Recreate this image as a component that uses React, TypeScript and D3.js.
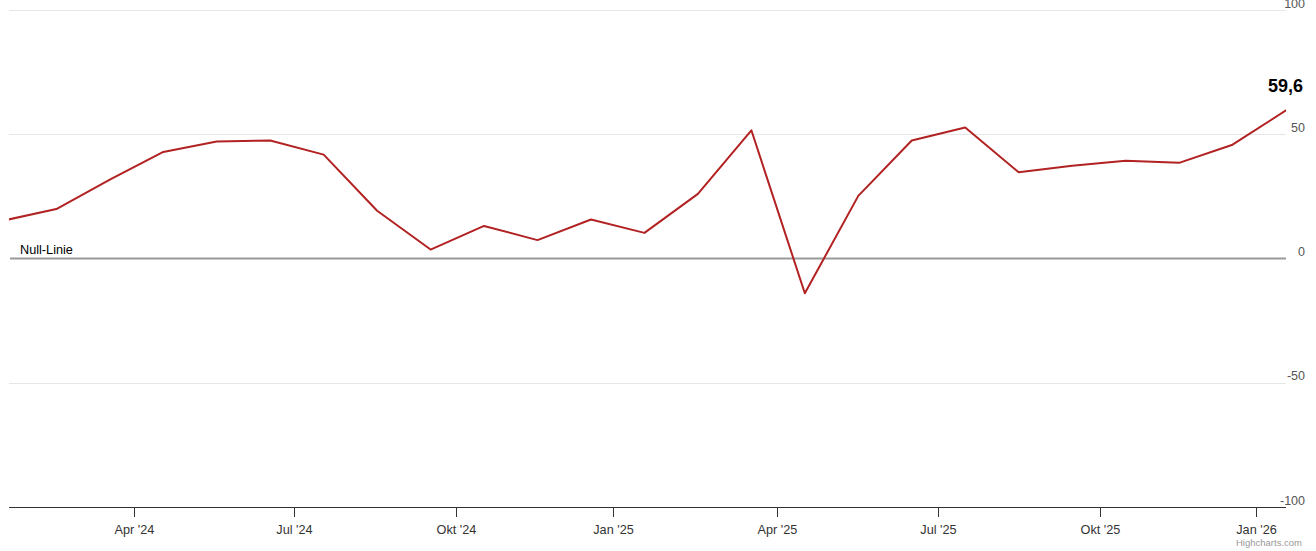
import React from "react";
import * as d3 from "d3";

// ZEW-Konjunkturerwartungen – release dates and values
const releaseDates: string[] = [
  "2024-01-16", "2024-02-20", "2024-03-19", "2024-04-16", "2024-05-14", "2024-06-18",
  "2024-07-16", "2024-08-13", "2024-09-17", "2024-10-15", "2024-11-12", "2024-12-17",
  "2025-01-21", "2025-02-18", "2025-03-18", "2025-04-15", "2025-05-20", "2025-06-17",
  "2025-07-15", "2025-08-12", "2025-09-16", "2025-10-14", "2025-11-11", "2025-12-16",
  "2026-01-20",
];
const values: number[] = [
  15.2, 19.9, 31.7, 42.9, 47.1, 47.5, 41.8, 19.2, 3.6, 13.1, 7.4, 15.7,
  10.3, 26.0, 51.6, -14.0, 25.2, 47.5, 52.7, 34.7, 37.3, 39.3, 38.5, 45.8,
  59.6,
];
const yTicks: number[] = [-100, -50, 0, 50, 100];
const monthNames: string[] = ["Jan", "Feb", "Mär", "Apr", "Mai", "Jun", "Jul", "Aug", "Sep", "Okt", "Nov", "Dez"];
const zeroLabel = "Null-Linie";
const lastLabel = "59,6";
const credit = "Highcharts.com";

const W = 1316;
const H = 551;
const left = 9;
const right = 1286;
const top = 10;
const bottom = 507;
const FONT = 'Arial, "Liberation Sans", Helvetica, sans-serif';

function parse(s: string): Date {
  const [y, m, d] = s.split("-").map(Number);
  return new Date(y, m - 1, d, 11, 0, 0);
}

export default function App() {
  const dates = releaseDates.map(parse);
  const n = dates.length;
  // ordinal axis: points equally spaced, dates interpolated between points
  const dateToIdx = (d: Date): number => {
    const t = d.getTime();
    for (let i = 0; i < n - 1; i++) {
      const a = dates[i].getTime();
      const b = dates[i + 1].getTime();
      if (t >= a && t <= b) return i + (t - a) / (b - a);
    }
    return t < dates[0].getTime() ? 0 : n - 1;
  };
  const maxDate = dates[n - 1];
  const minDate = new Date(maxDate);
  minDate.setFullYear(maxDate.getFullYear() - 2);
  const minIdx = dateToIdx(minDate);

  const x = d3.scaleLinear().domain([minIdx, n - 1]).range([left, right]);
  const y = d3.scaleLinear().domain([-100, 100]).range([bottom, top]);

  const xTicks = d3.timeMonth.every(3)!.range(minDate, maxDate);
  const fmt = (d: Date) => `${monthNames[d.getMonth()]} '${String(d.getFullYear()).slice(2)}`;

  const line = d3
    .line<number>()
    .x((_, i) => x(i))
    .y((v) => y(v));

  const crisp = (v: number) => Math.round(v) + 0.5;
  const lastY = y(values[n - 1]);

  return (
    <div style={{ position: "absolute", left: 0, top: 0 }}>
      <svg width={W} height={H} style={{ display: "block", fontFamily: FONT }}>
        <rect x={0} y={0} width={W} height={H} fill="#ffffff" />
        <defs>
          <clipPath id="plot">
            <rect x={left} y={top - 5} width={right - left} height={bottom - top + 10} />
          </clipPath>
        </defs>
        {/* grid */}
        {yTicks
          .filter((t) => t !== 0 && t !== -100)
          .map((t) => (
            <line key={t} x1={left} x2={right} y1={crisp(y(t))} y2={crisp(y(t))} stroke="#e6e6e6" strokeWidth={1} />
          ))}
        {/* zero line */}
        <line x1={left + 1} x2={right} y1={y(0)} y2={y(0)} stroke="#999999" strokeWidth={2} />
        <text x={20} y={y(0) - 4.5} fontSize={12.7} fill="#000">{zeroLabel}</text>
        {/* y labels */}
        {yTicks.map((t) => (
          <text key={t} x={1305} y={y(t) - 2.5} fontSize={12.5} fill="#555" textAnchor="end">
            {t}
          </text>
        ))}
        {/* x axis */}
        <line x1={left} x2={right} y1={bottom + 0.5} y2={bottom + 0.5} stroke="#333" strokeWidth={1} />
        {xTicks.map((d) => {
          const px = crisp(x(dateToIdx(d)));
          return (
            <g key={d.getTime()}>
              <line x1={px} x2={px} y1={bottom} y2={bottom + 10} stroke="#333" strokeWidth={1} />
              <text x={px} y={534} fontSize={12.7} fill="#333" textAnchor="middle">
                {fmt(d)}
              </text>
            </g>
          );
        })}
        {/* series */}
        <path
          d={line(values) ?? ""}
          fill="none"
          stroke="#b22222"
          strokeWidth={2}
          strokeLinejoin="round"
          strokeLinecap="round"
          clipPath="url(#plot)"
        />
        <text x={1303} y={lastY - 18} fontSize={18} fontWeight="bold" fill="#000" textAnchor="end">
          {lastLabel}
        </text>
        <text x={1302} y={546} fontSize={9.5} fill="#999" textAnchor="end">
          {credit}
        </text>
      </svg>
    </div>
  );
}
